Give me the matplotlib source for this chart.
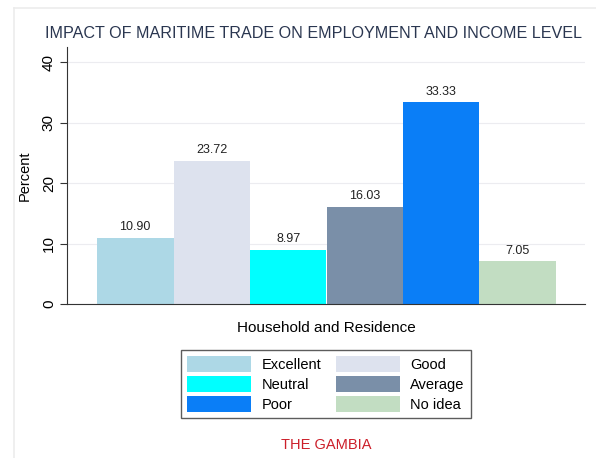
import matplotlib
matplotlib.use("Agg")
import matplotlib.pyplot as plt
from matplotlib.patches import Patch
from matplotlib.lines import Line2D

plt.rcParams['font.family'] = ['Liberation Sans', 'DejaVu Sans']

categories = ["Excellent", "Good", "Neutral", "Average", "Poor", "No idea"]
values = [10.90, 23.72, 8.97, 16.03, 33.33, 7.05]
colors = ["#add8e6", "#dde2ee", "#00ffff", "#7a8fa8", "#0a7ef7", "#c2ddc2"]
yticks = [0, 10, 20, 30, 40]

W, H = 596, 458
fig = plt.figure(figsize=(W/100, H/100), dpi=100)
fig.patch.set_facecolor("white")

# faint outer frame lines
fig.add_artist(Line2D([14/W, 14/W], [0, 1 - 8/H], color="#ececec", lw=1.2))
fig.add_artist(Line2D([14/W, 1], [1 - 8/H, 1 - 8/H], color="#ececec", lw=1.2))

ax = fig.add_axes([67/W, 1 - 304/H, (585-67)/W, (304-47)/H])
x = list(range(len(values)))
ax.bar(x, values, width=1.0, color=colors, edgecolor="none", zorder=2)
for xi, v in zip(x, values):
    ax.text(xi, v + 0.8, f"{v:.2f}", ha="center", va="bottom", fontsize=9, color="#222222")

ax.set_xlim(-0.5 - 30/76.5, 5.5 + 29/76.5)
ax.set_ylim(0, 42.5)
ax.set_yticks(yticks)
ax.set_yticklabels([str(t) for t in yticks], rotation=90, va="center", fontsize=11)
ax.yaxis.grid(True, color="#ececf0", lw=0.8, zorder=0)
ax.set_xticks([])
for s in ["top", "right"]:
    ax.spines[s].set_visible(False)
ax.spines["left"].set_color("#333333")
ax.spines["bottom"].set_color("#333333")
ax.tick_params(axis="y", length=5, color="#333333", pad=3)
ax.set_ylabel("Percent", fontsize=10.5, labelpad=7)

title = fig.text(45/W, 1 - 34/H, "IMPACT OF MARITIME TRADE ON EMPLOYMENT AND INCOME LEVEL",
                 fontsize=11.6, color="#2a3650", va="center", ha="left")
fig.text(326/W, 1 - 328/H, "Household and Residence", fontsize=11, ha="center", va="center")

handles = [Patch(facecolor=c, edgecolor="none") for c in colors]
order = [0, 2, 4, 1, 3, 5]
leg = fig.legend([handles[i] for i in order], [categories[i] for i in order],
                 ncol=2, loc="center", bbox_to_anchor=(326/W, 1 - 384/H),
                 fontsize=10.5, frameon=True, fancybox=False, edgecolor="#333333",
                 handlelength=4.4, handleheight=1.35, columnspacing=1.0,
                 labelspacing=0.25, borderpad=0.4, handletextpad=0.7)
leg.get_frame().set_linewidth(1.0)

fig.text(326/W, 1 - 445/H, "THE GAMBIA", fontsize=10.5, color="#cc1f2a", ha="center", va="center")

# shrink title to fit the reference width if needed
fig.canvas.draw()
bb = title.get_window_extent()
target = 540
if bb.width > target:
    title.set_fontsize(title.get_fontsize() * target / bb.width)

fig.savefig("out.png", dpi=100)
